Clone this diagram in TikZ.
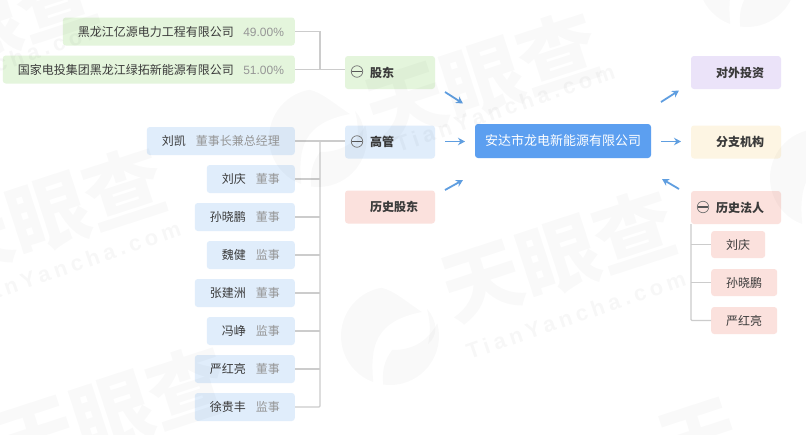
\documentclass[tikz,border=0pt]{standalone}
\usepackage{fontspec}
\setmainfont{Noto Sans CJK SC}
\newfontfamily\latinf{Liberation Sans}
\newfontfamily\wmlatin[LetterSpace=20]{Liberation Sans}
\usetikzlibrary{arrows.meta,calc}
\definecolor{txt}{HTML}{3A3A3A}
\definecolor{sub}{HTML}{969696}
\definecolor{lin}{HTML}{CCCCCC}
\definecolor{arr}{HTML}{5F9EE0}
\definecolor{gr}{HTML}{E4F5DC}
\definecolor{bl}{HTML}{E0EDFB}
\definecolor{pk}{HTML}{FBE1DD}
\definecolor{pu}{HTML}{EBE3F9}
\definecolor{cr}{HTML}{FDF5E3}
\definecolor{ce}{HTML}{5C9FF0}
\newcommand{\pair}[2]{\kern15pt #1\kern10pt{\color{sub}#2}\kern15pt}
\newcommand{\pct}[2]{\kern15pt #1\kern9.5pt{\color{sub}\latinf #2}\kern10.8pt}
\newcommand{\catlabel}[1]{\hspace*{25pt}#1}
\newcommand{\logomark}[2]{%
  \begin{scope}[shift={(#1,#2)},y=1pt,fill=black,fill opacity=.024]
    \fill (100:49pt) arc[start angle=100,end angle=250,radius=49pt] .. controls (-20,-10) and (-15,15) .. (32,24) .. controls (15,35) and (5,45) .. cycle;
    \fill (262:49pt) arc[start angle=262,end angle=375,radius=49pt] .. controls (36,-8) and (20,-14) .. (2,-14) .. controls (-6,-25) and (-8,-35) .. cycle;
    \fill (37,27) .. controls (48,15) and (48,0) .. (38,-8) .. controls (41,5) and (40,15) .. cycle;
  \end{scope}}
\tikzset{
  leaf/.style={anchor=east,rounded corners=3pt,inner xsep=0pt,inner ysep=0pt,minimum height=28pt,text=txt,font=\fontsize{12}{12}\selectfont},
  cat/.style={anchor=center,rounded corners=3pt,text width=90pt,align=left,minimum height=33pt,inner sep=0pt,text=txt,font=\fontsize{12}{12}\selectfont\bfseries},
  sublf/.style={anchor=west,rounded corners=3pt,minimum height=27pt,inner sep=0pt,text=txt,font=\fontsize{12}{12}\selectfont},
  link/.style={draw=lin,line width=1.4pt},
  flow/.style={draw=arr,line width=1.8pt,-{Stealth[length=7pt,width=7.5pt]}},
  minus/.style={circle,draw=txt!70,line width=.7pt,minimum size=11.5pt,inner sep=0pt,path picture={\draw[txt!85,line width=1.3pt] (path picture bounding box.west) -- (path picture bounding box.east);}},
  wm/.style={text=black,text opacity=.025,rotate=18,font=\fontsize{80}{80}\selectfont\bfseries},
  wmt/.style={text=black,text opacity=.03,rotate=19,font=\wmlatin\fontsize{22}{22}\selectfont\bfseries}
}
\begin{document}
\begin{tikzpicture}[x=1pt,y=-1pt]
\useasboundingbox (0,0) rectangle (806,434);
\fill[white] (0,0) rectangle (806,434);
% shareholders
\node[leaf,fill=gr] (s1) at (295,31.5) {\pct{黑龙江亿源电力工程有限公司}{49.00\%}};
\node[leaf,fill=gr] (s2) at (295,69.5) {\pct{国家电投集团黑龙江绿拓新能源有限公司}{51.00\%}};
% managers
\node[leaf,fill=bl] (m1) at (295,141) {\pair{刘凯}{董事长兼总经理}};
\node[leaf,fill=bl] (m2) at (295,179) {\pair{刘庆}{董事}};
\node[leaf,fill=bl] (m3) at (295,217) {\pair{孙晓鹏}{董事}};
\node[leaf,fill=bl] (m4) at (295,255) {\pair{魏健}{监事}};
\node[leaf,fill=bl] (m5) at (295,293) {\pair{张建洲}{董事}};
\node[leaf,fill=bl] (m6) at (295,331) {\pair{冯峥}{监事}};
\node[leaf,fill=bl] (m7) at (295,369) {\pair{严红亮}{董事}};
\node[leaf,fill=bl] (m8) at (295,407) {\pair{徐贵丰}{监事}};
% categories
\node[cat,fill=gr] (gd) at (390,72.5) {\catlabel{股东}};
\node[cat,fill=bl] (gg) at (390,142) {\catlabel{高管}};
\node[cat,fill=pk] (ls) at (390,207) {\catlabel{历史股东}};
\node[minus] (mg) at (357,71.5) {};
\node[minus] (mm) at (357,141.5) {};
% center
\node[anchor=center,rounded corners=3pt,fill=ce,text=white,minimum width=176pt,minimum height=34pt,inner sep=0pt,font=\fontsize{13}{13}\selectfont] (c) at (563,141) {安达市龙电新能源有限公司};
% right
\node[cat,fill=pu] (dw) at (736,72.5) {\catlabel{对外投资}};
\node[cat,fill=cr] (fz) at (736,142) {\catlabel{分支机构}};
\node[cat,fill=pk] (lf) at (736,207.5) {\catlabel{历史法人}};
\node[minus] (ml) at (703,207) {};
\node[sublf,fill=pk,minimum width=54pt] (r1) at (711,244.5) {刘庆};
\node[sublf,fill=pk,minimum width=66pt] (r2) at (711,282.5) {孙晓鹏};
\node[sublf,fill=pk,minimum width=66pt] (r3) at (711,320.5) {严红亮};
% junctions
\coordinate (ja) at (320,69.5);
\coordinate (jb) at (320,141);
\coordinate (jr) at (691,224);
% connectors
\draw[link] (s1.east) -| (ja);
\draw[link] (s2.east) -- (ja) -- (ja-|gd.west);
\draw[link] (m1.east) -- (jb) -- (jb-|gg.west);
\draw[link,rounded corners=1pt] (jb) |- (m8.east);
\foreach \n in {m2,m3,m4,m5,m6,m7} \draw[link] (\n.east) -- (\n.east-|jb);
\draw[link,rounded corners=1pt] (jr) |- (r3.west);
\draw[link] (r1.west-|jr) -- (r1.west);
\draw[link] (r2.west-|jr) -- (r2.west);
% arrows
\coordinate (a1) at (445,92); \coordinate (a2) at (463,103.5);
\coordinate (b1) at (445,141.5); \coordinate (b2) at (465,141.5);
\coordinate (d1) at (445,190); \coordinate (d2) at (463,180);
\coordinate (e1) at (661,102); \coordinate (e2) at (679,90.5);
\coordinate (f1) at (661,141.5); \coordinate (f2) at (681,141.5);
\coordinate (g1) at (679,189); \coordinate (g2) at (662,179);
\draw[flow] (a1) -- (a2);
\draw[flow] (b1) -- (b2);
\draw[flow] (d1) -- (d2);
\draw[flow] (e1) -- (e2);
\draw[flow] (f1) -- (f2);
\draw[flow] (g1) -- (g2);
% watermarks
\node[wm] (w1) at (558,256) {天眼查};
\node[wmt] (t1) at (576,315) {TianYancha.com};
\node[wm] (w2) at (48,213) {天眼查};
\node[wmt] (t2) at (71,265) {TianYancha.com};
\node[wm] (w3) at (482,78) {天眼查};
\node[wmt] (t3) at (505,108) {TianYancha.com};
\node[wm] (w4) at (112,412) {天眼查};
\node[wm] (w5) at (-20,25) {天眼查};
\node[wmt] (t5) at (-5,65) {TianYancha.com};
\node[wm] (w6) at (700,440) {天};
\logomark{390}{336}
\logomark{318}{138}
\logomark{747}{-22}
\logomark{819}{178}
\end{tikzpicture}
\end{document}
